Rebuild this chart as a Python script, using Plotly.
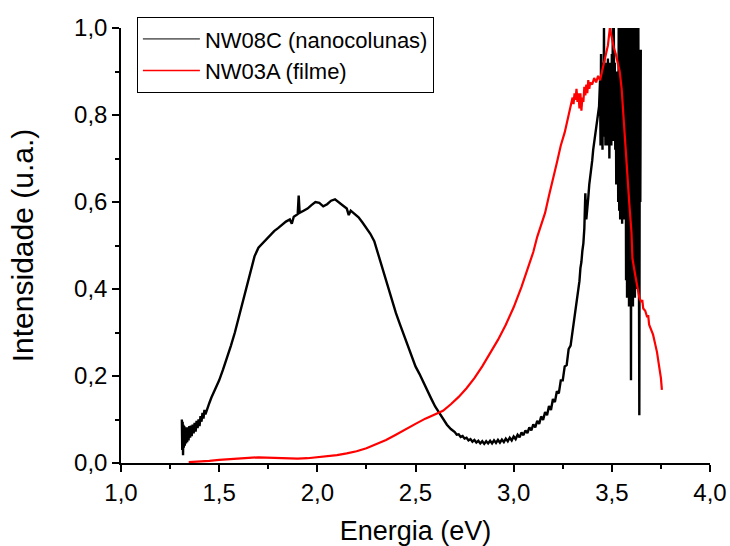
import plotly.graph_objects as go

# NW08C (nanocolunas) - black (noise hand-traced)
nw08c_x = [1.310, 1.312, 1.314, 1.316, 1.318, 1.320, 1.322, 1.325, 1.328, 1.331,
           1.334, 1.337, 1.340, 1.344, 1.348, 1.352, 1.356, 1.360, 1.365, 1.370,
           1.375, 1.380, 1.385, 1.390, 1.395, 1.400, 1.405, 1.410, 1.415, 1.420,
           1.425, 1.430, 1.440, 1.450,
           1.460, 1.480, 1.500, 1.520, 1.540, 1.560, 1.580, 1.600, 1.620, 1.640,
           1.660, 1.680, 1.700, 1.720, 1.740, 1.760, 1.780, 1.800, 1.820, 1.840,
           1.860, 1.870, 1.880, 1.900, 1.905, 1.910, 1.930, 1.950, 1.970, 1.990,
           2.010, 2.030, 2.050, 2.070, 2.090, 2.110, 2.130, 2.150, 2.160, 2.170,
           2.190, 2.210, 2.230, 2.250, 2.270, 2.290, 2.300, 2.320, 2.340, 2.360,
           2.380, 2.400, 2.420, 2.440, 2.460, 2.480, 2.500, 2.520, 2.540, 2.560,
           2.580, 2.600, 2.620, 2.640, 2.660, 2.680,
           2.70, 2.71, 2.72, 2.73, 2.74, 2.75, 2.76, 2.77, 2.78, 2.79,
           2.80, 2.81, 2.82, 2.83, 2.84, 2.85, 2.86, 2.87, 2.88, 2.89,
           2.90, 2.91, 2.92, 2.93, 2.94, 2.95, 2.96, 2.97, 2.98, 2.99,
           3.00, 3.01, 3.02, 3.03, 3.04, 3.05, 3.06, 3.07, 3.08, 3.09,
           3.10, 3.11, 3.12, 3.13, 3.14, 3.15, 3.16, 3.17, 3.18, 3.19,
           3.20, 3.21, 3.22, 3.23, 3.24, 3.25, 3.26, 3.27, 3.28, 3.29,
           3.300, 3.305, 3.310, 3.315, 3.320, 3.325, 3.330, 3.335, 3.340, 3.345,
           3.350, 3.355, 3.360, 3.365, 3.370, 3.375, 3.380, 3.385, 3.390, 3.395,
           3.400, 3.405, 3.410, 3.415, 3.420, 3.425, 3.430, 3.435, 3.440,
           3.4425, 3.4450, 3.4475, 3.4500, 3.4525, 3.4550, 3.4575, 3.4600, 3.4625, 3.4650,
           3.4675, 3.4700, 3.4725, 3.4750, 3.4775, 3.4800, 3.4825, 3.4850, 3.4875, 3.4900,
           3.4925, 3.4950, 3.4975, 3.5000, 3.5025, 3.5050, 3.5075, 3.5100, 3.5125, 3.5150,
           3.5175, 3.5200, 3.5225, 3.5250, 3.5275, 3.5300, 3.5325, 3.5350, 3.5375, 3.5400,
           3.5425, 3.5450, 3.5475, 3.5500, 3.5525, 3.5550, 3.5575, 3.5600, 3.5625, 3.5650,
           3.5675, 3.5700, 3.5725, 3.5750, 3.5775, 3.5800, 3.5825, 3.5850, 3.5875, 3.5900,
           3.5925, 3.5950, 3.5975, 3.6000, 3.6025, 3.6050, 3.6075, 3.6100, 3.6125, 3.6150,
           3.6175, 3.6200, 3.6225, 3.6250, 3.6275, 3.6300, 3.6325, 3.6350, 3.6375, 3.6400,
           3.6425, 3.6450, 3.6475]
nw08c_y = [0.100, 0.030, 0.095, 0.018, 0.088, 0.035, 0.085, 0.040, 0.082, 0.045,
           0.080, 0.048, 0.082, 0.052, 0.085, 0.058, 0.086, 0.062, 0.088, 0.068,
           0.092, 0.072, 0.097, 0.080, 0.100, 0.085, 0.108, 0.095, 0.115, 0.102,
           0.122, 0.112, 0.128, 0.138,
           0.150, 0.170, 0.190, 0.215, 0.240, 0.270, 0.300, 0.335, 0.370, 0.410,
           0.445, 0.475, 0.495, 0.505, 0.515, 0.525, 0.533, 0.540, 0.548, 0.555,
           0.560, 0.550, 0.566, 0.572, 0.615, 0.575, 0.580, 0.585, 0.593, 0.600,
           0.598, 0.590, 0.595, 0.603, 0.606, 0.600, 0.592, 0.585, 0.570, 0.580,
           0.572, 0.565, 0.553, 0.540, 0.527, 0.510, 0.495, 0.460, 0.430, 0.400,
           0.372, 0.345, 0.320, 0.295, 0.270, 0.245, 0.222, 0.205, 0.185, 0.165,
           0.148, 0.130, 0.115, 0.100, 0.088, 0.078,
           0.071, 0.065, 0.066, 0.060, 0.062, 0.056, 0.058, 0.052, 0.055, 0.049,
           0.053, 0.047, 0.051, 0.045, 0.050, 0.044, 0.050, 0.045, 0.051, 0.045,
           0.052, 0.046, 0.053, 0.047, 0.054, 0.048, 0.056, 0.050, 0.058, 0.052,
           0.061, 0.055, 0.065, 0.059, 0.070, 0.064, 0.075, 0.069, 0.082, 0.075,
           0.089, 0.082, 0.097, 0.090, 0.107, 0.099, 0.117, 0.110, 0.131, 0.122,
           0.147, 0.140, 0.165, 0.160, 0.190, 0.190, 0.222, 0.225, 0.262, 0.270,
           0.305, 0.312, 0.338, 0.345, 0.372, 0.380, 0.408, 0.418, 0.448, 0.462,
           0.488, 0.505, 0.540, 0.620, 0.560, 0.600, 0.610, 0.640, 0.655, 0.680,
           0.695, 0.720, 0.735, 0.755, 0.770, 0.790, 0.800, 0.820, 0.880,
           0.730, 0.940, 0.740, 0.900, 0.720, 0.920, 0.760, 1.000, 0.750, 0.900,
           0.730, 0.920, 0.770, 0.910, 0.730, 0.930, 0.760, 0.900, 0.700, 0.920,
           0.750, 0.900, 0.730, 0.940, 0.760, 1.000, 0.740, 1.000, 0.780, 0.920,
           0.720, 0.900, 0.640, 0.880, 0.700, 0.900, 0.600, 1.000, 0.580, 1.000,
           0.560, 1.000, 0.600, 1.000, 0.550, 1.000, 0.620, 1.000, 0.560, 1.000,
           0.600, 1.000, 0.420, 1.000, 0.380, 1.000, 0.400, 1.000, 0.360, 1.000,
           0.380, 1.000, 0.190, 1.000, 0.380, 1.000, 0.360, 1.000, 0.400, 1.000,
           0.380, 1.000, 0.420, 1.000, 0.400, 1.000, 0.450, 1.000, 0.500, 0.110,
           0.900, 0.600, 0.950]

# NW03A (filme) - red
nw03a_x = [1.345, 1.40, 1.45, 1.50, 1.55, 1.60, 1.65, 1.70, 1.75, 1.80,
           1.85, 1.90, 1.95, 2.00, 2.05, 2.10, 2.15, 2.20, 2.25, 2.30,
           2.35, 2.40, 2.45, 2.50, 2.55, 2.60, 2.64, 2.68, 2.72, 2.76,
           2.80, 2.84, 2.88, 2.92, 2.96, 3.00, 3.04, 3.08, 3.10, 3.12,
           3.14, 3.16, 3.18, 3.20, 3.22, 3.24, 3.26, 3.28, 3.295,
           3.300, 3.305, 3.310, 3.315, 3.320, 3.325, 3.330, 3.335, 3.340, 3.345,
           3.350, 3.355, 3.360, 3.365, 3.370, 3.375, 3.380, 3.385, 3.390, 3.400,
           3.410, 3.420, 3.430, 3.440, 3.450, 3.460, 3.470, 3.480, 3.490, 3.500,
           3.510, 3.520, 3.530, 3.540, 3.550, 3.560, 3.565, 3.580, 3.590, 3.600,
           3.605, 3.620, 3.630, 3.640, 3.650, 3.655, 3.660, 3.670, 3.680, 3.685,
           3.690, 3.700, 3.710, 3.720, 3.730, 3.740, 3.750, 3.755]
nw03a_y = [0.002, 0.003, 0.005, 0.007, 0.009, 0.011, 0.012, 0.013, 0.012, 0.011,
           0.010, 0.010, 0.011, 0.013, 0.015, 0.018, 0.022, 0.027, 0.034, 0.043,
           0.053, 0.065, 0.078, 0.090, 0.102, 0.112, 0.120, 0.135, 0.152, 0.172,
           0.195, 0.222, 0.252, 0.283, 0.318, 0.358, 0.405, 0.455, 0.485, 0.520,
           0.550, 0.575, 0.615, 0.650, 0.690, 0.730, 0.760, 0.800, 0.835,
           0.840, 0.825, 0.850, 0.835, 0.860, 0.830, 0.850, 0.815, 0.850, 0.810,
           0.840, 0.830, 0.865, 0.845, 0.870, 0.850, 0.880, 0.860, 0.875, 0.870,
           0.885, 0.875, 0.890, 0.880, 0.900, 0.915, 0.935, 0.960, 1.000, 0.975,
           0.955, 0.940, 0.920, 0.900, 0.860, 0.790, 0.750, 0.640, 0.590, 0.530,
           0.470, 0.430, 0.400, 0.380, 0.370, 0.375, 0.355, 0.350, 0.335, 0.340,
           0.318, 0.305, 0.295, 0.275, 0.255, 0.225, 0.195, 0.168]

x_ticks = [1.0, 1.5, 2.0, 2.5, 3.0, 3.5, 4.0]
y_ticks = [0.0, 0.2, 0.4, 0.6, 0.8, 1.0]

FONT = "Liberation Sans, Arial, sans-serif"

fig = go.Figure()
# data traces (thicker to mimic the dense noisy trace)
fig.add_trace(go.Scatter(x=nw08c_x, y=nw08c_y, mode="lines",
                         name="NW08C (nanocolunas)", showlegend=False,
                         line=dict(color="black", width=2.4)))
fig.add_trace(go.Scatter(x=nw03a_x, y=nw03a_y, mode="lines",
                         name="NW03A (filme)", showlegend=False,
                         line=dict(color="red", width=2.2)))
# legend entries with thin sample lines
fig.add_trace(go.Scatter(x=[None], y=[None], mode="lines",
                         name="NW08C (nanocolunas)",
                         line=dict(color="black", width=1)))
fig.add_trace(go.Scatter(x=[None], y=[None], mode="lines",
                         name="NW03A (filme)",
                         line=dict(color="red", width=1.5)))

axis_common = dict(
    showline=True, linecolor="black", linewidth=1.5,
    ticks="outside", ticklen=7, tickwidth=1.5, tickcolor="black",
    showgrid=False, zeroline=False, mirror=False, automargin=False,
    tickfont=dict(family=FONT, size=24, color="black"),
    tickformat=".1f",
)

fig.update_layout(
    width=730, height=546,
    margin=dict(l=121, r=20, t=28, b=83),
    plot_bgcolor="white", paper_bgcolor="white",
    separators=",.",
    showlegend=True,
    legend=dict(x=0.027, y=1.025, xanchor="left", yanchor="top",
                bordercolor="black", borderwidth=1, bgcolor="white",
                font=dict(family=FONT, size=22, color="black"),
                itemwidth=57, tracegroupgap=0),
    xaxis=dict(range=[1, 4], tickvals=x_ticks,
               minor=dict(ticks="outside", ticklen=4, tickwidth=1.5,
                          tickcolor="black", dtick=0.25, tick0=1),
               title=dict(text="Energia (eV)",
                          font=dict(family=FONT, size=27, color="black"),
                          standoff=22),
               **axis_common),
    yaxis=dict(range=[0, 1], tickvals=y_ticks,
               minor=dict(ticks="outside", ticklen=4, tickwidth=1.5,
                          tickcolor="black", dtick=0.1, tick0=0),
               title=dict(text="Intensidade (u.a.)",
                          font=dict(family=FONT, size=30, color="black"),
                          standoff=32),
               **axis_common),
)

fig.write_html("out.html")
